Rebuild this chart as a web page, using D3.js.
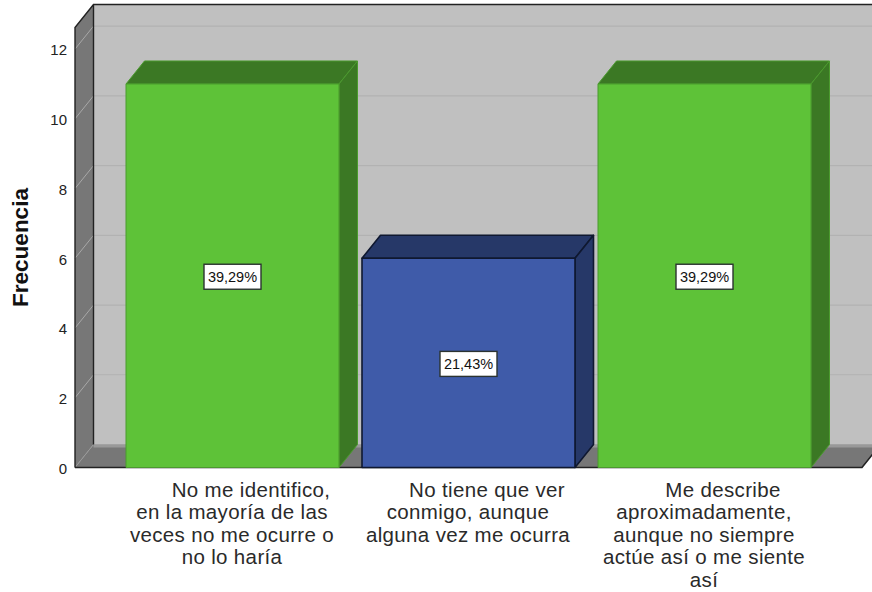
<!DOCTYPE html>
<html><head><meta charset="utf-8">
<script src="https://cdn.jsdelivr.net/npm/d3@7"></script>
<style>html,body{margin:0;padding:0;background:#fff}svg{display:block}text{font-family:"Liberation Sans",Arial,sans-serif}</style>
</head><body><div id="chart"></div>
<script>
const categories = [
  ["No me identifico,","en la mayoría de las","veces no me ocurre o","no lo haría"],
  ["No tiene que ver","conmigo, aunque","alguna vez me ocurra"],
  ["Me describe","aproximadamente,","aunque no siempre","actúe así o me siente","así"]
];
const frequencies = [11, 6, 11];
const percentLabels = ["39,29%", "21,43%", "39,29%"];
const barColors = ["#5ec238", "#3f5ba9", "#5ec238"];
const barTop = ["#3b7824", "#263868", "#3b7824"];
const barSide = ["#3b7824", "#263868", "#3b7824"];
const barStroke = ["#4b9a2e", "#0f1830", "#4b9a2e"];
const yTicks = [0, 2, 4, 6, 8, 10, 12];
const yMax = 12.62;

const W = 872, H = 592;
const svg = d3.select("#chart").append("svg").attr("width", W).attr("height", H);
const y = d3.scaleLinear().domain([0, yMax]).range([467.5, 27.5]);
const x = d3.scaleBand().domain(d3.range(3)).range([126, 811]).paddingInner(0.0975).paddingOuter(0);
const dx = 18.5, dy = -23, left = 75, right = 862;
const pts = a => a.map(p => p.join(",")).join(" ");

// walls
svg.append("polygon").attr("fill", "#c0c0c0")
  .attr("points", pts([[left+dx, y(yMax)+dy],[W+10, y(yMax)+dy],[W+10, y(0)+dy],[left+dx, y(0)+dy]]));
svg.append("polygon").attr("fill", "#777777")
  .attr("points", pts([[left, y(0)],[left+dx, y(0)+dy],[left+dx, y(yMax)+dy],[left, y(yMax)]]));
// floor
svg.append("polygon").attr("fill", "#777777")
  .attr("points", pts([[left, y(0)],[left+dx, y(0)+dy],[right+dx, y(0)+dy],[right, y(0)]]));
svg.append("rect").attr("x", left+dx).attr("y", y(0)+dy).attr("width", W-left-dx).attr("height", 3).attr("fill", "#999999");

// gridlines
yTicks.filter(d => d > 0).forEach(t => {
  svg.append("line").attr("x1", left+dx).attr("x2", W).attr("y1", y(t)+dy).attr("y2", y(t)+dy)
    .attr("stroke", "#b2b2b2").attr("stroke-width", 1.2);
});
yTicks.forEach(t => {
  svg.append("line").attr("x1", left).attr("x2", left+dx).attr("y1", y(t)).attr("y2", y(t)+dy)
    .attr("stroke", t === 0 ? "#999" : "#a8a8a8").attr("stroke-width", 1);
});

// wall outlines
const edge = "#222";
svg.append("path").attr("fill", "none").attr("stroke", edge).attr("stroke-width", 1.4)
  .attr("d", `M${left},${y(0)}V${y(yMax)}L${left+dx},${y(yMax)+dy}H${W}M${left+dx},${y(yMax)+dy}V${y(0)+dy}`);
svg.append("path").attr("fill", "none").attr("stroke", edge).attr("stroke-width", 1.6)
  .attr("d", `M${left},${y(0)}H${right}L${right+dx},${y(0)+dy}`);

// bars
frequencies.forEach((v, i) => {
  const x0 = x(i), x1 = x0 + x.bandwidth(), t = y(v), b = y(0);
  const g = svg.append("g").attr("stroke", barStroke[i]).attr("stroke-width", i === 1 ? 1.6 : 1).attr("stroke-linejoin", "round");
  g.append("polygon").attr("fill", barTop[i])
    .attr("points", pts([[x0, t],[x0+dx, t+dy],[x1+dx, t+dy],[x1, t]]));
  g.append("polygon").attr("fill", barSide[i])
    .attr("points", pts([[x1, t],[x1+dx, t+dy],[x1+dx, b+dy],[x1, b]]));
  g.append("rect").attr("x", x0).attr("y", t).attr("width", x1-x0).attr("height", b-t).attr("fill", barColors[i]);
});

// percent labels
frequencies.forEach((v, i) => {
  const cx = x(i) + x.bandwidth()/2, cy = y(v/2) + 1;
  const g = svg.append("g");
  g.append("rect").attr("x", cx-28.5).attr("y", cy-12.5).attr("width", 57).attr("height", 25)
    .attr("fill", "#fff").attr("stroke", "#2b3330").attr("stroke-width", 1.4);
  g.append("text").attr("x", cx).attr("y", cy+5).attr("text-anchor", "middle")
    .attr("font-size", 14.5).attr("fill", "#111").text(percentLabels[i]);
});

// y axis labels
const axis = d3.axisLeft(y).tickValues(yTicks).tickSize(0).tickPadding(8).tickFormat(d3.format("d"));
const ga = svg.append("g").attr("transform", `translate(${left},1)`).call(axis);
ga.select(".domain").remove();
ga.selectAll("text").attr("font-size", 15).attr("fill", "#222").style("font-family", '"Liberation Sans",Arial,sans-serif');

// axis title
svg.append("text").attr("transform", "translate(28,247.5) rotate(-90)").attr("text-anchor", "middle")
  .attr("font-size", 22.5).attr("font-weight", "bold").attr("fill", "#111").text("Frecuencia");

// category labels
categories.forEach((lines, i) => {
  const cx = x(i) + x.bandwidth()/2 - 0.5;
  lines.forEach((s, k) => {
    svg.append("text").attr("x", cx + (k === 0 ? 19 : 0)).attr("y", 497 + k*22.4)
      .attr("text-anchor", "middle").attr("font-size", 20.5).attr("letter-spacing", 0.35)
      .attr("fill", "#2a2a2a").text(s);
  });
});
</script></body></html>
